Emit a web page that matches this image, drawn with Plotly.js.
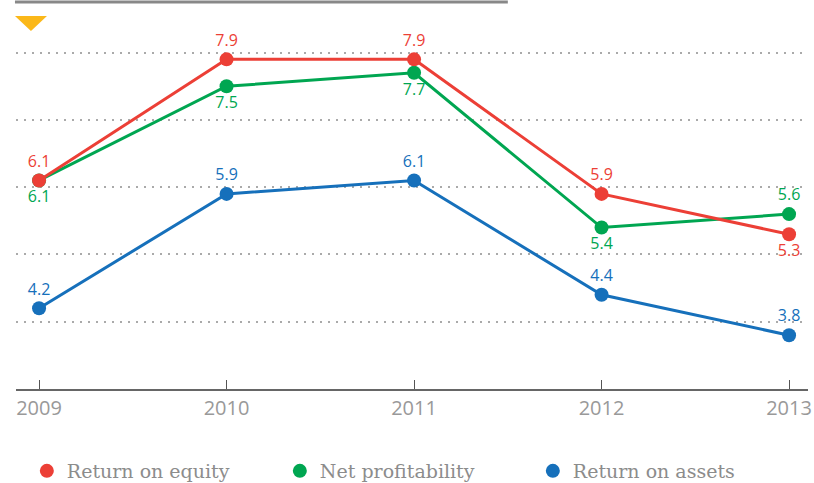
<!DOCTYPE html>
<html><head><meta charset="utf-8">
<script src="https://cdn.plot.ly/plotly-3.0.1.min.js"></script>
<style>html,body{margin:0;padding:0;background:#fff}#chart{width:814px;height:483px}</style>
</head><body><div id="chart"></div>
<script>
const years = [2009, 2010, 2011, 2012, 2013];
const returnOnEquity = [6.1, 7.9, 7.9, 5.9, 5.3];
const netProfitability = [6.1, 7.5, 7.7, 5.4, 5.6];
const returnOnAssets = [4.2, 5.9, 6.1, 4.4, 3.8];
const seriesNames = ['Return on equity', 'Net profitability', 'Return on assets'];
const roePos = ['top center','top center','top center','top center','bottom center'];
const npPos = ['bottom center','bottom center','bottom center','bottom center','top center'];
const roaPos = ['top center','top center','top center','top center','top center'];
const colors = ['#ec3f36', '#00a651', '#1670bb'];

function line(y, c, pos){
  return {x: years, y: y, mode: 'lines+markers+text', text: y.map(v=>v.toFixed(1)),
    textposition: pos, textfont: {family: 'Open Sans', size: 16, color: c},
    line: {color: c, width: 3}, marker: {color: c, size: 14}, showlegend: false, hoverinfo: 'skip', cliponaxis: false};
}
function leg(name, c){
  return {x: [null], y: [null], mode: 'markers', name: name, marker: {color: c, size: 14}};
}
const data = [
  line(returnOnAssets, colors[2], roaPos),
  line(netProfitability, colors[1], npPos),
  line(returnOnEquity, colors[0], roePos),
  leg(seriesNames[0], colors[0]), leg(seriesNames[1], colors[1]), leg(seriesNames[2], colors[2])
];
const layout = {
  width: 814, height: 483,
  margin: {l: 16, r: 6, t: 19, b: 94},
  paper_bgcolor: '#fff', plot_bgcolor: '#fff',
  xaxis: {range: [2008.877, 2013.101], tickvals: years, ticktext: years.map(String),
    showgrid: false, zeroline: false, showline: true, linecolor: '#666', linewidth: 1.5,
    ticks: 'inside', ticklen: 9, tickcolor: '#555', tickwidth: 1.2,
    tickfont: {family: 'Open Sans', size: 20, color: '#999'}},
  yaxis: {range: [3, 8.5], tick0: 3, dtick: 1, showticklabels: false, zeroline: false,
    showgrid: true, gridcolor: '#aaa', gridwidth: 1.5, griddash: '2px,6px'},
  legend: {orientation: 'h', x: 0.0137, xanchor: 'left', yref: 'container', y: 0.0248, yanchor: 'middle',
    entrywidth: 208, entrywidthmode: 'pixels', itemwidth: 30,
    font: {family: 'DejaVu Serif', size: 19, color: '#8c8c8c'}},
  shapes: [
    {type: 'line', xref: 'paper', yref: 'paper', x0: -0.0013, x1: 0.621, y0: 1.046, y1: 1.046,
      line: {color: '#888', width: 3}},
    {type: 'path', xref: 'paper', yref: 'paper', path: 'M -0.0013,1.0081 L 0.0391,1.0081 L 0.0189,0.9676 Z',
      fillcolor: '#fbb819', line: {width: 0}}
  ]
};
Plotly.newPlot('chart', data, layout, {displayModeBar: false});
</script></body></html>
